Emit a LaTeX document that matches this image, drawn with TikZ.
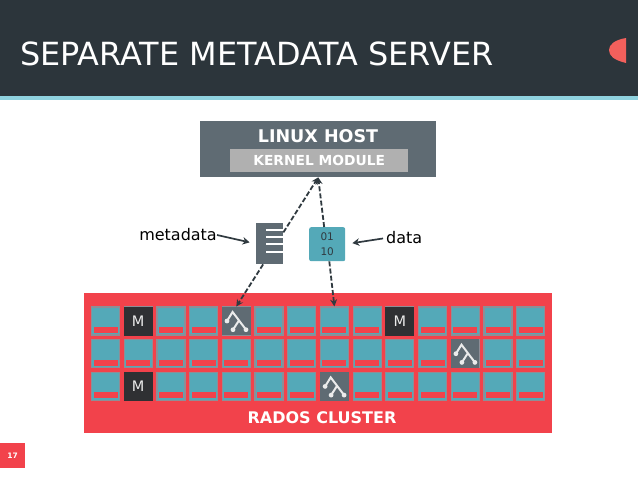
\documentclass[tikz,border=0pt]{standalone}
\usepackage{fontspec}
\setmainfont{DejaVu Sans}
\usetikzlibrary{arrows.meta, positioning}
\definecolor{titledark}{HTML}{2C353B}
\definecolor{stripblue}{HTML}{8FD2DF}
\definecolor{accentred}{HTML}{F2424B}
\definecolor{shapered}{HTML}{F2605C}
\definecolor{slategrey}{HTML}{5F6B73}
\definecolor{kernelgrey}{HTML}{B0B0B0}
\definecolor{diskteal}{HTML}{54A9B8}
\definecolor{diskgrey}{HTML}{8E8E96}
\definecolor{monblack}{HTML}{2F3033}
\definecolor{arrowdark}{HTML}{303A40}
\tikzset{
  plainbox/.style={inner sep=0pt, text=white, font=\bfseries},
  diskcell/.style={draw=diskgrey, line width=1.2pt, fill=diskteal, inner sep=0pt, minimum width=28pt, minimum height=28pt},
  diskbar/.style={fill=accentred, inner sep=0pt, minimum width=24pt, minimum height=6pt},
  moncell/.style={fill=monblack, inner sep=0pt, minimum width=29pt, minimum height=29pt, text=white!92!black, font=\fontsize{14.5}{14.5}\selectfont},
  treecell/.style={fill=slategrey, inner sep=0pt, minimum width=28.5pt, minimum height=28.5pt},
  dasharrow/.style={arrowdark, dash pattern=on 5pt off 2.2pt, line width=1.8pt, -{Stealth[length=7pt,width=7pt]}},
  notearrow/.style={arrowdark, line width=1.7pt, -{Stealth[length=7pt,width=7.5pt]}},
  treeicon/.pic={
    \draw[white!92!black, line width=2pt] (-9.3,0) -- (-3.7,-9) -- (9.7,8.7) (2.3,0) -- (-3.3,8.7);
    \fill[white!92!black] (-9.3,0) circle (2.4pt) (9.7,8.7) circle (2.4pt) (-3.3,8.7) circle (2.4pt);
  }
}
\begin{document}
\begin{tikzpicture}[x=1pt, y=-1pt]
    \useasboundingbox (0, 0) rectangle (638, 479);
    \fill[white] (0, 0) rectangle (638, 479);
    % title bar
    \fill[titledark] (0, 0) rectangle (638, 96);
    \fill[stripblue] (0, 96) rectangle (638, 100);
    \fill[shapered] (626, 38) .. controls (614, 40) and (609, 45) .. (609, 50) .. controls (609, 56) and (614, 60) .. (626, 63) -- cycle;
    \node[anchor=west, inner sep=0pt, text=white, font=\fontsize{31.9}{31.9}\selectfont] (title) at (20, 54) {SEPARATE METADATA SERVER};
    % page number
    \node[plainbox, fill=accentred, minimum width=25pt, minimum height=25pt, font=\fontsize{7.5}{7.5}\selectfont\bfseries, anchor=north west] (pagenum) at (0, 443) {17};
    % host
    \node[plainbox, fill=slategrey, minimum width=236pt, minimum height=56pt, anchor=north west] (hostbox) at (200, 121) {};
    \node[plainbox, font=\fontsize{17.5}{17.5}\selectfont\bfseries] (hostlabel) at (318, 136) {LINUX HOST};
    \node[plainbox, fill=kernelgrey, minimum width=178pt, minimum height=23pt, anchor=north west, font=\fontsize{13.8}{13.8}\selectfont\bfseries] (kernelbox) at (230, 149) {KERNEL MODULE};
    % middle objects
    \node[fill=slategrey, inner sep=0pt, minimum width=27.5pt, minimum height=41pt, anchor=north west] (metadoc) at (255.5, 223) {};
    \foreach \ly in {230, 237, 244, 252}
      \draw[white, line width=1.4pt] (266, \ly) -- (283, \ly);
    \node[fill=diskteal, rounded corners=2pt, inner sep=0pt, minimum width=36pt, minimum height=34pt, anchor=north west, align=center, text=arrowdark, font=\fontsize{10.5}{15}\selectfont] (databox) at (309, 227) {01\\10};
    \node[inner sep=0pt, anchor=east, font=\fontsize{16}{16}\selectfont] (metalabel) at (217, 235) {metadata};
    \node[inner sep=0pt, anchor=west, font=\fontsize{16}{16}\selectfont] (datalabel) at (386, 238) {data};
    % cluster
    \node[plainbox, fill=accentred, minimum width=468.5pt, minimum height=140pt, anchor=north west] (cluster) at (83.5, 293) {};
    \node[plainbox, font=\fontsize{16}{16}\selectfont\bfseries] (clusterlabel) at (322, 418) {RADOS CLUSTER};
    \foreach \r in {0, 1, 2}
      \foreach \c in {0, ..., 13} {
        \node[diskcell] (cell-\r-\c) at (105.5+\c*32.7, 321+\r*32.7) {};
        \node[diskbar, anchor=south] (bar-\r-\c) at ([yshift=2.4pt]cell-\r-\c.south) {};
      }
    \foreach \r/\c in {0/1, 0/9, 2/1}
      \node[moncell] (mon-\r-\c) at (cell-\r-\c) {M};
    \foreach \r/\c in {0/4, 1/11, 2/7} {
      \node[treecell] (tree-\r-\c) at (cell-\r-\c) {};
      \pic at (tree-\r-\c) {treeicon};
    }
    % connectors
    \draw[dasharrow] (metadoc.39) -- (hostbox.south);
    \draw[dasharrow] (databox.100) -- (hostbox.south);
    \draw[dasharrow] (metadoc.253) -- (tree-0-4.north);
    \draw[dasharrow] (databox.277) -- (cell-0-7.north);
    \draw[notearrow, shorten >=6pt] (metalabel.east) -- (metadoc.west);
    \draw[notearrow, shorten <=3pt, shorten >=7pt] (datalabel.west) -- (databox.east);
  \end{tikzpicture}
\end{document}
